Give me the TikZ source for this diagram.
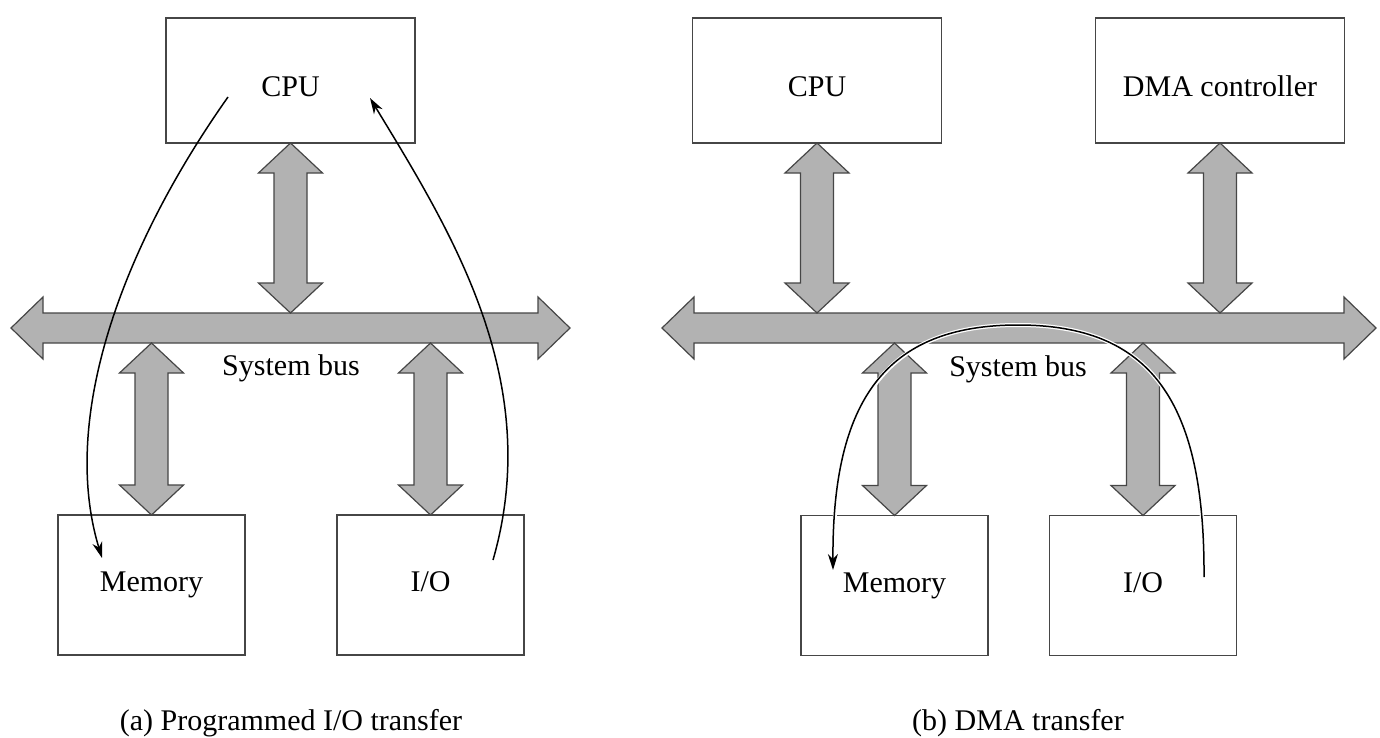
\documentclass[tikz,border=0pt]{standalone}
\usepackage{fontspec}
\setmainfont{Liberation Serif}
\usetikzlibrary{arrows.meta,calc}
\definecolor{busfill}{RGB}{178,178,178}
\definecolor{edgecol}{RGB}{70,70,70}
\tikzset{
 box/.style={draw=edgecol, line width=0.65pt, minimum width=124.5pt, minimum height=62.5pt, inner sep=0pt, outer sep=0pt, fill=white, font=\fontsize{15}{18}\selectfont, text height=10pt, text depth=3.2pt},
 smallbox/.style={box, minimum width=93.5pt, minimum height=70pt},
 lbl/.style={font=\fontsize{15}{18}\selectfont, inner sep=0pt, anchor=base},
 blockarrow/.style={draw=edgecol, fill=busfill, line width=0.6pt, line join=miter},
 flow/.style={line width=0.75pt, -{Stealth[length=8pt,width=5pt,inset=2.5pt]}},
}
\newcommand{\vdarrow}[2]{%
 \draw[blockarrow] let \p1=(#1), \p2=(#2) in
 (\x1,\y1) -- (\x1+16pt,\y1-15pt) -- (\x1+8.25pt,\y1-15pt) -- (\x1+8.25pt,\y2+15pt) -- (\x1+16pt,\y2+15pt) -- (\x1,\y2) -- (\x1-16pt,\y2+15pt) -- (\x1-8.25pt,\y2+15pt) -- (\x1-8.25pt,\y1-15pt) -- (\x1-16pt,\y1-15pt) -- cycle;}
\newcommand{\hdarrow}[2]{%
 \draw[blockarrow] let \p1=(#1), \p2=(#2) in
 (\x1,\y1) -- (\x1+16pt,\y1+15.5pt) -- (\x1+16pt,\y1+7.5pt) -- (\x2-16pt,\y1+7.5pt) -- (\x2-16pt,\y1+15.5pt) -- (\x2,\y1) -- (\x2-16pt,\y1-15.5pt) -- (\x2-16pt,\y1-7.5pt) -- (\x1+16pt,\y1-7.5pt) -- (\x1+16pt,\y1-15.5pt) -- cycle;}
\begin{document}
\begin{tikzpicture}[x=0.5pt,y=-0.5pt]
\useasboundingbox[fill=white] (0,0) rectangle (1380,738);

% ---------- (a) Programmed I/O ----------
\node[box] (cpuA) at (290.5,80.5) {};
\node[lbl] (cpuAt) at (290.5,97) {CPU};
\node[smallbox] (memA) at (151.5,585) {Memory};
\node[smallbox] (ioA) at (430.5,585) {I/O};
\coordinate (busAL) at (11,328);
\coordinate (busAR) at (570,328);
\coordinate (busAtop) at (0,313);
\coordinate (busAbot) at (0,343);
\hdarrow{busAL}{busAR}
\vdarrow{cpuA.south}{cpuA.south |- busAtop}
\vdarrow{memA.north |- busAbot}{memA.north}
\vdarrow{ioA.north |- busAbot}{ioA.north}
\node[lbl] (busAt) at (291,375) {System bus};
\node[lbl] (capA) at (291,730) {(a) Programmed I/O transfer};

\coordinate (a1s) at (228,97);
\coordinate (a1e) at (102,558);
\draw[flow] (a1s) .. controls (120,250) and (60,420) .. (a1e);
\coordinate (a2s) at (493,560);
\coordinate (a2e) at (370,98);
\draw[flow] (a2s) .. controls (545,380) and (450,230) .. (a2e);

% ---------- (b) DMA ----------
\node[box] (cpuB) at (817,80.5) {};
\node[lbl] (cpuBt) at (817,97) {CPU};
\node[box] (dmaB) at (1220,80.5) {};
\node[lbl] (dmaBt) at (1220,97) {DMA controller};
\node[smallbox] (memB) at (894.5,585.5) {Memory};
\node[smallbox] (ioB) at (1143,585.5) {I/O};
\coordinate (busBL) at (662,328);
\coordinate (busBR) at (1376,328);
\coordinate (busBtop) at (0,313);
\coordinate (busBbot) at (0,343);
\hdarrow{busBL}{busBR}
\vdarrow{cpuB.south}{cpuB.south |- busBtop}
\vdarrow{dmaB.south}{dmaB.south |- busBtop}
\vdarrow{memB.north |- busBbot}{memB.north}
\vdarrow{ioB.north |- busBbot}{ioB.north}
\node[lbl] (busBt) at (1018,376) {System bus};
\node[lbl] (capB) at (1018,730) {(b) DMA transfer};

\coordinate (b1s) at (1204,577);
\coordinate (btop) at (1018,325);
\coordinate (b1e) at (833,570);
\draw[flow, preaction={draw=white, line width=2pt, -}] (b1s) .. controls (1205,400) and (1150,325) .. (btop) .. controls (886,325) and (832,400) .. (b1e);
\end{tikzpicture}
\end{document}
